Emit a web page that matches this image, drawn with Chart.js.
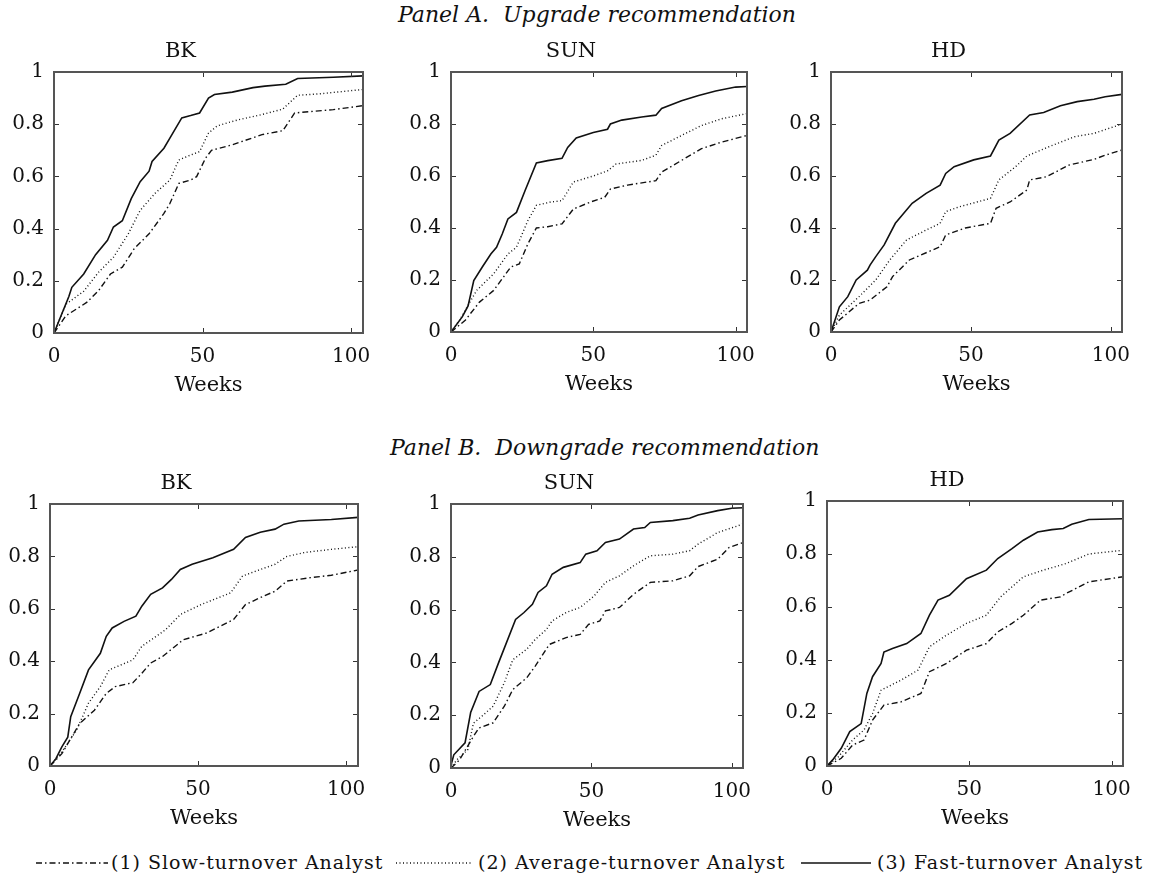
<!DOCTYPE html>
<html>
<head>
<meta charset="utf-8">
<script src="https://cdn.jsdelivr.net/npm/chart.js@4.4.0/dist/chart.umd.min.js"></script>
<style>
  body { margin: 0; background: #fff; width: 1151px; height: 882px; position: relative; overflow: hidden;
         font-family: 'DejaVu Serif', serif; color: #111; }
  canvas { position: absolute; }
  .head { position: absolute; font-style: italic; font-size: 22px; white-space: pre; line-height: 26px; }
  .leg { position: absolute; top: 850px; font-size: 19px; letter-spacing: 1px; white-space: pre; line-height: 24px; }
  .sample { position: absolute; top: 851px; }
</style>
</head>
<body>
<div class="head" style="top:2px;left:398px">Panel A.  Upgrade recommendation</div>
<div class="head" style="top:435px;left:390px">Panel B.  Downgrade recommendation</div>

<svg class="sample" style="left:36px" width="72" height="22"><line x1="0" y1="12" x2="72" y2="12" stroke="#111" stroke-width="1.4" stroke-dasharray="6 3 1.5 3"/></svg>
<div class="leg" style="left:111px">(1) Slow-turnover Analyst</div>
<svg class="sample" style="left:396px" width="76" height="22"><line x1="0" y1="12" x2="76" y2="12" stroke="#111" stroke-width="1.4" stroke-dasharray="1 2.5"/></svg>
<div class="leg" style="left:478px">(2) Average-turnover Analyst</div>
<svg class="sample" style="left:801px" width="70" height="22"><line x1="0" y1="12" x2="70" y2="12" stroke="#111" stroke-width="1.6"/></svg>
<div class="leg" style="left:877px">(3) Fast-turnover Analyst</div>

<script>
// cumulative fraction of recommendations revised, [week, value]
const weekTicks = [0, 50, 100];
const seriesNames = ['(1) Slow-turnover Analyst', '(2) Average-turnover Analyst', '(3) Fast-turnover Analyst'];

// Panel A - upgrades
const upBkSlow = [[0,0],[4,0.066],[11,0.117],[15,0.162],[19,0.226],[23,0.252],[27,0.323],[32,0.38],[37,0.458],[39,0.496],[42,0.573],[46,0.586],[48,0.599],[51,0.67],[53,0.70],[60,0.721],[70,0.76],[77,0.775],[81,0.843],[94,0.856],[104,0.871]];
const upBkAvg = [[0,0],[4,0.11],[10,0.16],[15,0.233],[20,0.29],[25,0.38],[29,0.47],[34,0.535],[39,0.586],[42,0.663],[46,0.682],[49,0.695],[52,0.766],[55,0.794],[62,0.817],[70,0.837],[77,0.858],[82,0.911],[89,0.916],[104,0.933]];
const upBkFast = [[0,0],[5,0.14],[6,0.175],[10,0.226],[14,0.30],[18,0.355],[20,0.406],[23,0.43],[26,0.515],[29,0.58],[32,0.62],[33,0.657],[37,0.708],[39,0.747],[43,0.824],[46,0.833],[49,0.843],[52,0.90],[54,0.914],[60,0.923],[67,0.94],[71,0.946],[78,0.953],[82,0.975],[94,0.98],[104,0.985]];

const upSunSlow = [[0,0],[5,0.045],[10,0.115],[15,0.16],[17,0.19],[21,0.25],[24,0.262],[27,0.339],[30,0.40],[34,0.405],[39,0.416],[43,0.473],[49,0.50],[54,0.518],[56,0.55],[62,0.565],[72,0.582],[74,0.615],[81,0.66],[88,0.705],[95,0.73],[104,0.756]];
const upSunAvg = [[0,0],[3,0.045],[9,0.16],[15,0.224],[20,0.30],[23,0.326],[27,0.428],[30,0.487],[35,0.50],[39,0.505],[43,0.577],[50,0.60],[55,0.62],[58,0.646],[67,0.66],[72,0.68],[74,0.717],[81,0.756],[88,0.794],[95,0.82],[104,0.84]];
const upSunFast = [[0,0],[4,0.059],[6,0.10],[8,0.198],[11,0.25],[14,0.30],[16,0.326],[18,0.377],[20,0.435],[23,0.46],[26,0.543],[30,0.65],[34,0.659],[39,0.668],[41,0.71],[44,0.746],[50,0.767],[55,0.78],[56,0.80],[60,0.815],[67,0.827],[72,0.834],[74,0.86],[81,0.889],[87,0.91],[93,0.927],[100,0.942],[104,0.944]];

const upHdSlow = [[0,0],[3,0.046],[10,0.11],[14,0.123],[20,0.174],[22,0.213],[28,0.277],[39,0.328],[41,0.373],[48,0.40],[57,0.418],[59,0.476],[64,0.50],[70,0.546],[71,0.585],[77,0.597],[85,0.642],[94,0.664],[98,0.68],[104,0.70]];
const upHdAvg = [[0,0],[3,0.065],[10,0.136],[16,0.20],[21,0.277],[27,0.354],[34,0.392],[39,0.418],[41,0.463],[46,0.482],[57,0.514],[60,0.585],[66,0.636],[70,0.677],[78,0.713],[87,0.751],[94,0.764],[104,0.80]];
const upHdFast = [[0,0],[3,0.097],[6,0.136],[9,0.20],[13,0.238],[14,0.258],[16,0.29],[19,0.335],[23,0.418],[29,0.495],[34,0.533],[39,0.565],[41,0.61],[44,0.636],[51,0.662],[57,0.677],[60,0.738],[64,0.764],[71,0.835],[76,0.844],[82,0.87],[88,0.886],[94,0.895],[98,0.905],[104,0.914]];

// Panel B - downgrades
const downBkSlow = [[0,0],[4,0.047],[10,0.162],[15,0.213],[19,0.277],[22,0.303],[28,0.318],[31,0.354],[34,0.393],[38,0.418],[45,0.482],[53,0.508],[62,0.559],[66,0.616],[72,0.648],[76,0.667],[80,0.706],[88,0.719],[95,0.728],[104,0.748]];
const downBkAvg = [[0,0],[4,0.054],[9,0.137],[13,0.24],[17,0.303],[20,0.367],[28,0.405],[31,0.457],[35,0.488],[39,0.52],[44,0.578],[51,0.616],[61,0.661],[65,0.725],[71,0.75],[76,0.77],[80,0.80],[86,0.815],[95,0.827],[104,0.837]];
const downBkFast = [[0,0],[2,0.028],[4,0.073],[6,0.11],[7,0.188],[10,0.277],[13,0.367],[17,0.43],[19,0.495],[21,0.527],[25,0.552],[29,0.572],[31,0.61],[34,0.655],[38,0.68],[41,0.712],[44,0.75],[48,0.77],[55,0.795],[62,0.827],[66,0.872],[71,0.892],[76,0.904],[79,0.923],[84,0.935],[95,0.941],[104,0.949]];

const downSunSlow = [[0,0],[3,0.03],[8,0.12],[10,0.152],[15,0.171],[19,0.234],[22,0.297],[27,0.342],[30,0.386],[35,0.468],[41,0.494],[46,0.506],[49,0.544],[53,0.557],[55,0.595],[60,0.608],[65,0.658],[71,0.703],[79,0.709],[85,0.728],[88,0.763],[95,0.791],[99,0.835],[104,0.854]];
const downSunAvg = [[0,0],[2,0.03],[6,0.07],[8,0.17],[11,0.196],[15,0.234],[19,0.323],[22,0.41],[27,0.45],[30,0.487],[34,0.525],[36,0.557],[41,0.589],[46,0.608],[51,0.652],[55,0.703],[60,0.728],[65,0.766],[71,0.804],[79,0.81],[85,0.823],[88,0.848],[95,0.892],[104,0.924]];
const downSunFast = [[0,0.01],[1,0.05],[5,0.095],[7,0.21],[10,0.29],[14,0.316],[17,0.40],[23,0.563],[26,0.589],[29,0.62],[31,0.665],[34,0.69],[36,0.734],[40,0.76],[46,0.778],[48,0.81],[52,0.823],[55,0.854],[60,0.867],[65,0.905],[69,0.911],[71,0.93],[79,0.937],[85,0.946],[88,0.958],[95,0.975],[100,0.984],[104,0.986]];

const downHdSlow = [[0,0],[5,0.029],[9,0.079],[13,0.098],[16,0.173],[20,0.23],[26,0.242],[33,0.274],[36,0.356],[42,0.387],[49,0.437],[56,0.462],[60,0.506],[65,0.538],[69,0.569],[75,0.626],[82,0.638],[84,0.651],[92,0.695],[104,0.714]];
const downHdAvg = [[0,0],[4,0.035],[9,0.098],[13,0.136],[16,0.198],[19,0.286],[26,0.324],[32,0.362],[36,0.45],[42,0.494],[49,0.538],[56,0.569],[61,0.638],[69,0.714],[76,0.739],[84,0.764],[92,0.80],[104,0.814]];
const downHdFast = [[0,0],[2,0.023],[5,0.067],[8,0.13],[12,0.16],[14,0.274],[16,0.337],[19,0.387],[20,0.43],[23,0.443],[28,0.462],[33,0.50],[36,0.569],[39,0.626],[43,0.644],[49,0.707],[56,0.739],[60,0.783],[65,0.82],[69,0.852],[74,0.883],[79,0.892],[83,0.896],[86,0.912],[92,0.93],[104,0.933]];

// plot boxes on the page: left, top, right, bottom
const panels = [
  { title: 'BK',  box: [54, 72, 363, 333],  series: [upBkSlow, upBkAvg, upBkFast] },
  { title: 'SUN', box: [451, 72, 747, 332], series: [upSunSlow, upSunAvg, upSunFast] },
  { title: 'HD',  box: [831, 72, 1122, 332], series: [upHdSlow, upHdAvg, upHdFast] },
  { title: 'BK',  box: [50, 504, 358, 766], series: [downBkSlow, downBkAvg, downBkFast] },
  { title: 'SUN', box: [451, 504, 743, 768], series: [downSunSlow, downSunAvg, downSunFast] },
  { title: 'HD',  box: [827, 501, 1123, 766], series: [downHdSlow, downHdAvg, downHdFast] }
];

const lineStyles = [
  { borderDash: [6, 3, 1.5, 3], borderWidth: 1.4 },
  { borderDash: [1, 2.5], borderWidth: 1.4 },
  { borderDash: [], borderWidth: 1.6 }
];

Chart.defaults.font.family = "'DejaVu Serif', serif";
Chart.defaults.color = '#111';

const LEFT = 56, TOP = 42, RIGHT = 24, BOTTOM = 72;

// box frame with inward ticks on all four sides, like the original figure
const frameTicks = {
  id: 'frameTicks',
  afterDraw(chart) {
    const { ctx, chartArea: a, scales: { x, y } } = chart;
    ctx.save();
    ctx.strokeStyle = '#333';
    ctx.lineWidth = 1;
    ctx.beginPath();
    x.ticks.forEach(t => {
      const px = Math.round(x.getPixelForValue(t.value)) + 0.5;
      if (px < a.left + 2 || px > a.right - 2) return;
      ctx.moveTo(px, a.bottom); ctx.lineTo(px, a.bottom - 5);
      ctx.moveTo(px, a.top); ctx.lineTo(px, a.top + 5);
    });
    y.ticks.forEach(t => {
      const py = Math.round(y.getPixelForValue(t.value)) + 0.5;
      if (py < a.top + 2 || py > a.bottom - 2) return;
      ctx.moveTo(a.left, py); ctx.lineTo(a.left + 5, py);
      ctx.moveTo(a.right, py); ctx.lineTo(a.right - 5, py);
    });
    ctx.stroke();
    ctx.lineWidth = 2;
    ctx.strokeStyle = '#555';
    ctx.strokeRect(a.left, a.top, a.width, a.height);
    ctx.restore();
  }
};

panels.forEach(p => {
  const [l, t, r, b] = p.box;
  const cv = document.createElement('canvas');
  cv.width = (r - l) + LEFT + RIGHT;
  cv.height = (b - t) + TOP + BOTTOM;
  cv.style.left = (l - LEFT) + 'px';
  cv.style.top = (t - TOP) + 'px';
  document.body.appendChild(cv);

  new Chart(cv.getContext('2d'), {
    type: 'line',
    data: {
      datasets: p.series.map((s, i) => ({
        label: seriesNames[i],
        data: s.map(([w, v]) => ({ x: w, y: v })),
        borderColor: '#111',
        backgroundColor: 'transparent',
        pointRadius: 0,
        tension: 0,
        fill: false,
        ...lineStyles[i]
      }))
    },
    options: {
      responsive: false,
      animation: false,
      layout: { padding: { left: 0, top: 0, right: RIGHT, bottom: 0 } },
      plugins: {
        legend: { display: false },
        tooltip: { enabled: false },
        title: {
          display: true,
          text: p.title,
          font: { size: 21, weight: 'normal', lineHeight: '24px' },
          padding: { top: 10, bottom: 8 }
        }
      },
      scales: {
        x: {
          type: 'linear',
          min: 0,
          max: 104,
          grid: { display: false, drawTicks: false },
          border: { display: false },
          afterFit: sc => { sc.height = BOTTOM; },
          afterBuildTicks: sc => { sc.ticks = weekTicks.map(v => ({ value: v })); },
          ticks: { font: { size: 20 }, padding: 12, maxRotation: 0 },
          title: { display: true, text: 'Weeks', font: { size: 21, lineHeight: '24px' }, padding: { top: 0, bottom: 7 } }
        },
        y: {
          min: 0,
          max: 1,
          grid: { display: false, drawTicks: false },
          border: { display: false },
          afterFit: sc => { sc.width = LEFT; },
          ticks: {
            stepSize: 0.2,
            font: { size: 20 },
            padding: 10,
            callback: v => (v === 0 || v === 1) ? String(v) : v.toFixed(1)
          }
        }
      }
    },
    plugins: [frameTicks]
  });
});
</script>
</body>
</html>
